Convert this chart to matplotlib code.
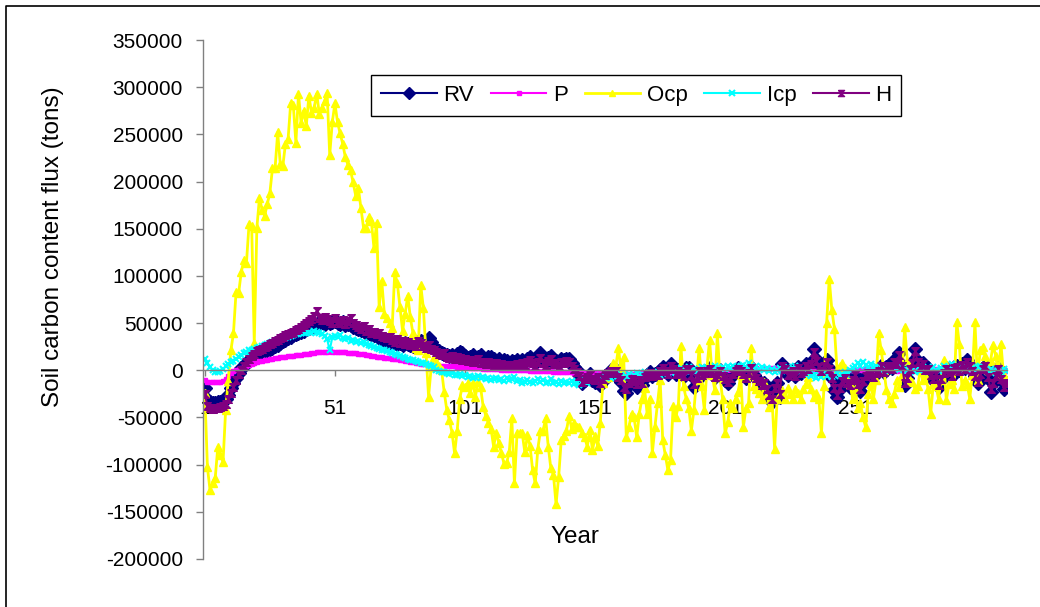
import numpy as np
import matplotlib
matplotlib.use("Agg")
import matplotlib.pyplot as plt
from matplotlib.lines import Line2D

plt.rcParams['font.family'] = ['Liberation Sans', 'DejaVu Sans']

series_names = ["RV", "P", "Ocp", "Icp", "H"]
x_ticks = [1, 51, 101, 151, 201, 251]
x_tick_labels = ["1", "51", "101", "151", "201", "251"]
y_ticks = list(range(-200000, 350001, 50000))

# soil carbon content flux per year, in thousands of tons
rv = [-19, -30, -34, -35, -35, -34, -34, -33, -30, -26,
      -19, -14, -8, -3, 2, 5, 8, 11, 13, 15,
      17, 18, 20, 21, 22, 23, 24, 26, 27, 29,
      31, 32, 34, 35, 37, 38, 39, 41, 42, 44,
      45, 46, 47, 49, 50, 51, 49, 52, 50, 51,
      52, 50, 49, 51, 48, 49, 48, 46, 45, 44,
      43, 42, 40, 39, 38, 37, 36, 34, 33, 32,
      31, 30, 30, 29, 28, 29, 27, 29, 28, 27,
      26, 27, 30, 31, 30, 28, 34, 30, 25, 22,
      20, 18, 17, 16, 15, 16, 14, 17, 19, 18,
      15, 13, 14, 16, 12, 14, 16, 13, 12, 14,
      14, 12, 10, 12, 9, 11, 10, 8, 10, 9,
      11, 8, 11, 9, 12, 14, 10, 8, 13, 18,
      12, 9, 13, 15, 9, 10, 8, 12, 11, 12,
      12, 8, 3, 0, -5, -14, -10, -8, -4, -10,
      -12, -8, -16, -11, -6, -4, 0, -2, 0, -8,
      -12, -22, -24, -16, -10, -13, -18, -12, -16, -8,
      -5, -2, -6, -4, -5, 0, 3, 0, -4, 7,
      2, -4, 0, -3, -6, 2, 2, -5, -18, -8,
      0, -5, -2, 0, 2, -3, -7, -4, 0, -6,
      -10, -14, -8, -3, 0, 2, 0, -4, -8, -2,
      3, -5, -8, -12, -18, -14, -22, -28, -34, -20,
      -14, -28, 7, 2, -5, -2, 0, -6, 3, -3,
      0, 7, 2, 9, 23, 12, 4, 0, 6, 11,
      2, -8, -21, -28, -20, -12, -8, -14, -18, -10,
      -5, -16, -22, -12, -6, -2, -4, -7, -3, 0,
      5, -2, 3, 6, 2, 11, 8, 18, 6, -16,
      -8, 2, 9, 23, 10, 4, 8, 0, 2, -5,
      -10, -4, -18, -10, -3, 2, -2, -6, 3, 4,
      0, 7, 2, 11, 6, 0, -6, -14, -4, 2,
      5, -8, -23, -14, -6, 2, -10, -20, -13]

p = [-10, -12, -12, -12, -12, -12, -12, -11, -9, -6,
     -3, -1, 0, 1, 2, 3, 4, 6, 7, 8,
     9, 10, 10, 11, 11, 12, 12, 13, 13, 14,
     14, 14, 15, 15, 15, 16, 16, 16, 17, 17,
     17, 18, 18, 19, 19, 19, 19, 19, 20, 19,
     19, 19, 19, 19, 19, 18, 18, 18, 18, 17,
     17, 17, 16, 16, 15, 15, 14, 14, 14, 13,
     13, 13, 12, 12, 12, 11, 11, 10, 10, 9,
     9, 8, 8, 7, 7, 7, 6, 6, 6, 5,
     5, 5, 5, 4, 4, 4, 4, 3, 3, 3,
     3, 3, 2, 2, 2, 2, 2, 1, 1, 1,
     1, 1, 1, 1, 0, 0, 0, 0, 0, 0,
     0, 0, 0, 0, 0, -1, -1, -1, -1, -1,
     -1, -1, -1, -1, -2, -2, -2, -2, -2, -2,
     -2, -2, -3, -3, -3, -3, -3, -3, -3, -3,
     -3, -3, -4, -4, -4, -4, -4, -4, -4, -4,
     -4, -4, -4, -4, -4, -4, -3, -3, -3, -3,
     -3, -3, -3, -3, -3, -2, -2, -2, -2, -2,
     -2, -2, -2, -2, -1, -1, -1, -1, -1, -1,
     -1, -1, -1, -1, -1, -1, 0, 0, 0, 0,
     0, 0, 1, 0, 0, 1, 1, 0, 1, 1,
     1, 1, 2, 1, 1, 2, 1, 1, 2, 2,
     1, 1, 2, 1, 1, 1, 0, 1, 0, 0,
     0, -1, 0, -1, -1, -1, -2, -1, -1, -2,
     -2, -1, -2, -1, -1, -1, 0, -1, 0, 0,
     0, 0, 1, 0, 1, 1, 1, 0, 1, 1,
     0, 0, 1, 0, 0, 0, -1, 0, -1, -1,
     -1, -1, 0, -1, 0, 0, 0, 1, 0, 1,
     1, 1, 1, 0, 1, 1, 0, 0, 1, 0,
     0, -1, 0, -1, -1, -1, 0, -1, 0, 0,
     -1, -1, 0, -1, -1, 0, -1, 0, -1]

ocp = [-24, -103, -127, -120, -114, -81, -90, -97, -42, -11,
       21, 39, 83, 82, 104, 117, 114, 155, 153, 29,
       151, 183, 170, 164, 176, 188, 214, 214, 252, 219,
       217, 240, 245, 283, 281, 241, 293, 262, 275, 259,
       291, 273, 278, 293, 272, 278, 285, 294, 228, 263,
       283, 263, 251, 240, 226, 218, 212, 199, 185, 193,
       172, 151, 151, 162, 158, 130, 156, 67, 95, 60,
       55, 50, 45, 104, 92, 67, 42, 60, 79, 56,
       39, 24, 21, 90, 66, 18, -28, 3, 14, 8,
       4, 0, -23, -42, -53, -66, -88, -64, -30, -16,
       -18, -14, -24, -13, -28, -12, -18, -39, -48, -56,
       -62, -81, -66, -77, -88, -99, -98, -87, -51, -120,
       -67, -67, -67, -87, -69, -80, -106, -120, -83, -64,
       -64, -51, -81, -104, -111, -142, -113, -74, -70, -64,
       -48, -62, -56, -60, -60, -66, -71, -81, -63, -85,
       -70, -80, -56, -13, -8, -7, 2, 8, 5, 24,
       -3, 14, -71, -60, -46, -50, -71, -46, -30, -19,
       -46, -30, -88, -60, -35, -10, -74, -90, -106, -95,
       -38, -50, -38, 26, -17, -30, -40, -64, -42, -10,
       24, -17, -42, 3, 32, -5, -21, 39, -7, -30,
       -67, -55, -35, -40, -30, -23, -5, -60, -40, -35,
       24, -17, -20, -24, -30, -12, -25, -39, -30, -83,
       -30, -25, -21, -30, -19, -25, -30, -20, -24, -30,
       -20, -15, -7, -20, -28, -24, -30, -67, -17, 50,
       97, 64, 44, 0, 5, 8, 2, -7, -15, -30,
       -20, -40, -35, -50, -60, -25, -15, -30, -10, 39,
       21, 0, -21, -30, -35, -25, -10, -18, -5, 46,
       10, -10, -12, -20, -17, 0, -10, -5, -20, -46,
       -15, -17, -30, -10, 11, -32, -15, -10, -20, 51,
       28, -17, -10, -15, -30, -5, 51, -10, 21, 25,
       15, 0, 10, 27, 15, -5, 28, -5, -10]

icp = [12, 8, 3, 0, -2, -2, -1, 1, 4, 7,
       9, 10, 12, 14, 16, 18, 19, 21, 22, 23,
       24, 25, 26, 27, 28, 29, 30, 31, 32, 33,
       34, 34, 35, 36, 37, 38, 38, 39, 39, 40,
       41, 40, 42, 41, 39, 38, 36, 33, 21, 35,
       36, 35, 37, 34, 33, 34, 31, 32, 30, 31,
       29, 30, 28, 27, 26, 25, 24, 23, 22, 21,
       20, 19, 18, 17, 16, 15, 14, 13, 12, 11,
       11, 10, 9, 8, 8, 7, 6, 4, 3, 0,
       -1, -2, -2, -3, -4, -3, -5, -5, -4, -6,
       -5, -7, -6, -8, -7, -6, -8, -7, -9, -8,
       -10, -9, -8, -10, -9, -11, -8, -10, -9, -7,
       -11, -10, -13, -12, -10, -12, -14, -11, -9, -12,
       -10, -13, -12, -9, -14, -12, -15, -11, -13, -12,
       -14, -11, -15, -13, -16, -12, -10, -14, -11, -9,
       -10, -8, -6, -9, -7, -5, -8, -6, -4, -7,
       -5, -8, -6, -4, -7, -5, -3, -6, -4, -2,
       -5, -3, -6, -4, -2, -5, -3, -1, -4, -2,
       0, -3, -1, 2, -2, 0, 3, -1, 1, -2,
       1, 3, 0, 2, -1, 1, 4, 2, 0, 3,
       1, 4, 2, 5, 3, 1, 4, 6, 3, 8,
       5, 2, 4, 1, 3, 0, 2, -1, 1, -2,
       0, 2, -1, 1, 3, 0, 2, 4, 1, -1,
       -3, -5, -2, -6, -4, -8, -5, -7, -3, -6,
       -4, -7, -5, -3, -6, -4, -2, -5, 0, 2,
       5, 8, 4, 9, 6, 3, 7, 2, 4, 1,
       3, 0, 2, -1, 1, 4, 2, 0, 3, 1,
       -1, 2, 0, -2, 1, -1, 3, 0, -2, 1,
       3, 0, -1, 2, 5, 1, 3, 7, 4, 2,
       0, 3, -1, 1, 4, 2, 0, 3, 5, 2,
       0, -2, 1, -1, -3, 0, -2, 1, -1]

h = [-25, -38, -40, -41, -40, -40, -39, -38, -36, -30,
     -24, -18, -10, -4, 0, 5, 9, 12, 15, 17,
     20, 22, 23, 25, 26, 28, 29, 31, 32, 34,
     35, 37, 38, 40, 41, 43, 44, 46, 48, 50,
     52, 54, 58, 63, 55, 53, 56, 54, 52, 50,
     55, 52, 50, 53, 49, 52, 55, 50, 48, 46,
     44, 47, 42, 44, 40, 41, 38, 40, 36, 35,
     34, 35, 32, 30, 33, 29, 31, 28, 30, 27,
     28, 26, 31, 29, 26, 24, 27, 23, 21, 19,
     17, 16, 18, 14, 13, 15, 12, 14, 13, 11,
     12, 10, 11, 9, 10, 12, 8, 9, 7, 9,
     8, 6, 8, 5, 7, 5, 6, 4, 6, 5,
     7, 5, 8, 6, 9, 11, 8, 5, 9, 13,
     8, 6, 10, 12, 7, 8, 5, 9, 8, 10,
     9, 5, 1, -2, -6, -12, -9, -7, -5, -9,
     -10, -7, -13, -9, -5, -3, -1, -3, -1, -7,
     -10, -18, -20, -14, -9, -11, -15, -10, -13, -7,
     -5, -3, -6, -4, -5, -1, 2, -1, -4, 5,
     1, -4, -1, -3, -6, 1, 1, -5, -15, -8,
     -1, -5, -3, -1, 1, -3, -7, -4, -1, -6,
     -9, -12, -8, -4, -1, 1, -1, -4, -8, -3,
     2, -5, -8, -11, -16, -13, -20, -26, -30, -19,
     -13, -25, 5, 1, -5, -3, -1, -6, 2, -3,
     -1, 5, 1, 7, 19, 10, 3, -1, 5, 9,
     1, -8, -19, -26, -19, -11, -8, -13, -16, -10,
     -5, -15, -20, -11, -6, -3, -4, -7, -3, -1,
     4, -2, 2, 5, 1, 9, 7, 16, 5, -14,
     -8, 1, 8, 20, 9, 3, 7, 0, 1, -5,
     -9, -4, -16, -9, -3, 1, -2, -6, 2, 3,
     -1, 6, 1, 9, 5, -1, -6, -12, -4, 1,
     4, -7, -20, -13, -6, 1, -9, -18, -14]

hourglass = [(-1, 1), (1, 1), (-1, -1), (1, -1), (-1, 1)]

styles = [
    dict(color='#000080', marker='D', ms=7.5, lw=1.5),
    dict(color='#FF00FF', marker='s', ms=3.2, lw=1.5),
    dict(color='#FFFF00', marker='^', ms=6, lw=2),
    dict(color='#00FFFF', marker='x', ms=5, mew=1.5, lw=1.5),
    dict(color='#800080', marker=hourglass, ms=5.5, lw=1.5),
]

fig = plt.figure(figsize=(10.4, 6.07), dpi=100)
ax = fig.add_axes([0.1952, 0.0791, 0.773, 0.855])

for name, vals, st in zip(series_names, [rv, p, ocp, icp, h], styles):
    vals = np.array(vals) * 1000
    years = np.arange(1, len(vals) + 1)
    ax.plot(years, vals, label=name, **st)

ax.set_xlim(0.3, 309.3)
ax.set_ylim(-200000, 350000)

ax.set_xticks(x_ticks)
ax.set_xticklabels(x_tick_labels)
ax.set_yticks(y_ticks)
ax.set_yticklabels([str(v) for v in y_ticks])

for side in ['top', 'right']:
    ax.spines[side].set_visible(False)
for side in ['left', 'bottom']:
    ax.spines[side].set_color('#808080')
    ax.spines[side].set_linewidth(1.0)
ax.spines['bottom'].set_position(('data', 0))

ax.tick_params(axis='y', direction='out', length=5, width=1, color='#808080',
               pad=9.5, labelsize=15)
ax.tick_params(axis='x', direction='out', length=4.5, width=1, color='#808080',
               pad=16.5, labelsize=15)

ax.set_ylabel('Soil carbon content flux (tons)', fontsize=17.5)
ax.yaxis.label.set_verticalalignment('center')
ax.yaxis.set_label_coords(-0.187, 0.601)
ax.set_xlabel('Year', fontsize=17.5)
ax.xaxis.label.set_verticalalignment('center')
ax.xaxis.set_label_coords(0.463, 0.042)

leg = ax.legend(loc='center', bbox_to_anchor=(0.539, 0.894), ncol=5, fontsize=16,
                frameon=True, fancybox=False, edgecolor='black', framealpha=1,
                handlelength=2.5, handletextpad=0.3, columnspacing=0.75,
                borderpad=0.45, markerscale=0.8)
leg.get_frame().set_linewidth(1.0)

# chart area border (only left and top are in the picture)
fig.add_artist(Line2D([6 / 1040, 6 / 1040, 1], [0, 1 - 6 / 607, 1 - 6 / 607],
                      transform=fig.transFigure, color='black', lw=1.2))

fig.savefig('out.png', dpi=100)
